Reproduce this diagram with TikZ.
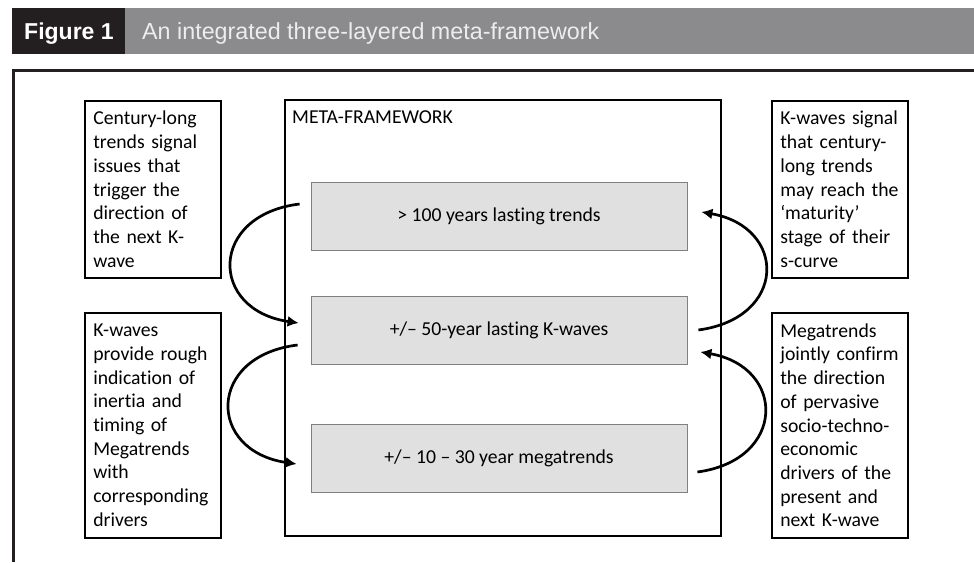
\documentclass[tikz,border=0pt]{standalone}
\usepackage{fontspec}
\setmainfont{Carlito}[Ligatures=NoCommon]
\newfontfamily\headfont{Liberation Sans}
\usetikzlibrary{arrows.meta,calc}
\definecolor{hdark}{HTML}{231F20}
\definecolor{hgray}{HTML}{8B8B8D}
\definecolor{boxgray}{HTML}{E0E0E0}
\definecolor{boxline}{HTML}{808080}
\tikzset{
  bodyfont/.style={font=\fontsize{19.7pt}{23.7pt}\selectfont},
  tbox/.style={draw=black, line width=1.6pt, anchor=north west, inner xsep=8.5pt, inner ysep=0pt,
    align=left, text width=119pt, minimum width=136pt, bodyfont},
  gbox/.style={draw=boxline, fill=boxgray, line width=0.8pt, minimum width=376pt, minimum height=68pt,
    inner sep=0pt, bodyfont},
  conn/.style={line width=2.7pt, -{Latex[length=11pt,width=11pt]}},
  hdrbar/.style={inner sep=0pt, anchor=north west},
}
\begin{document}
\begin{tikzpicture}[x=1pt,y=-1pt]
\useasboundingbox (0,0) rectangle (974,562);
\fill[white] (0,0) rectangle (974,562);
% header
\node[hdrbar, fill=hgray, minimum width=962pt, minimum height=46pt] (hbar) at (12,8) {};
\node[hdrbar, fill=hdark, minimum width=113pt, minimum height=46pt] (hfig) at (12,8) {};
\node[anchor=base west, inner sep=0pt, text=white, font=\headfont\bfseries\fontsize{23pt}{27pt}\selectfont] (fig) at (24,39.3) {Figure 1};
\node[anchor=base west, inner sep=0pt, text=white!93!black, font=\headfont\fontsize{23.3pt}{27pt}\selectfont] (ttl) at (142,39.3) {An integrated three-layered meta-framework};
% outer frame
\draw[hdark, line width=3pt] (974,70.5) -- (13.5,70.5) -- (13.5,562);
% meta box
\node[draw=black, line width=1.6pt, anchor=north west, minimum width=436pt, minimum height=436pt, inner sep=0pt] (meta) at (284,99) {};
\node[anchor=base west, inner sep=0pt, bodyfont] (metalbl) at (292,123) {META-FRAMEWORK};
% layer boxes
\node[gbox] (g1) at (499,216) {> 100 years lasting trends};
\node[gbox] (g2) at (499,330) {+/– 50-year lasting K-waves};
\node[gbox] (g3) at (499,458.5) {+/– 10 – 30 year megatrends};
% text boxes
\node[tbox, minimum height=177pt] (lt) at (84,100) {Century-long\\trends signal\\issues that\\trigger the\\direction of\\the next K-\\wave};
\node[tbox, minimum height=177pt, minimum width=135pt] (rt) at (771,100) {K-waves signal\\that century-\\long trends\\may reach the\\‘maturity’\\stage of their\\s-curve};
\node[tbox, minimum height=225pt] (lb) at (84,312) {K-waves\\provide rough\\indication of\\inertia and\\timing of\\Megatrends\\with\\corresponding\\drivers};
\node[tbox, minimum height=225pt, minimum width=135pt] (rb) at (771,312) {Megatrends\\jointly confirm\\the direction\\of pervasive\\socio-techno-\\economic\\drivers of the\\present and\\next K-wave};
% connector ends
\coordinate (a1s) at ($(g1.west)+(-11,-12)$);
\coordinate (a1e) at ($(g2.west)+(-12,-7)$);
\coordinate (a2s) at ($(g2.west)+(-13,15)$);
\coordinate (a2e) at ($(g3.west)+(-14,5.5)$);
\coordinate (a3s) at ($(g2.east)+(11,0)$);
\coordinate (a3e) at ($(g1.east)+(14,-4)$);
\coordinate (a4s) at ($(g3.east)+(10,13.5)$);
\coordinate (a4e) at ($(g2.east)+(13,22)$);
\draw[conn] (a1s) .. controls +(-91,11) and +(-90,-13) .. (a1e);
\draw[conn] (a2s) .. controls +(-91,11) and +(-90,-13) .. (a2e);
\draw[conn] (a3s) .. controls +(89,-12) and +(86,15) .. (a3e);
\draw[conn] (a4s) .. controls +(89,-12) and +(86,15) .. (a4e);
\end{tikzpicture}
\end{document}
